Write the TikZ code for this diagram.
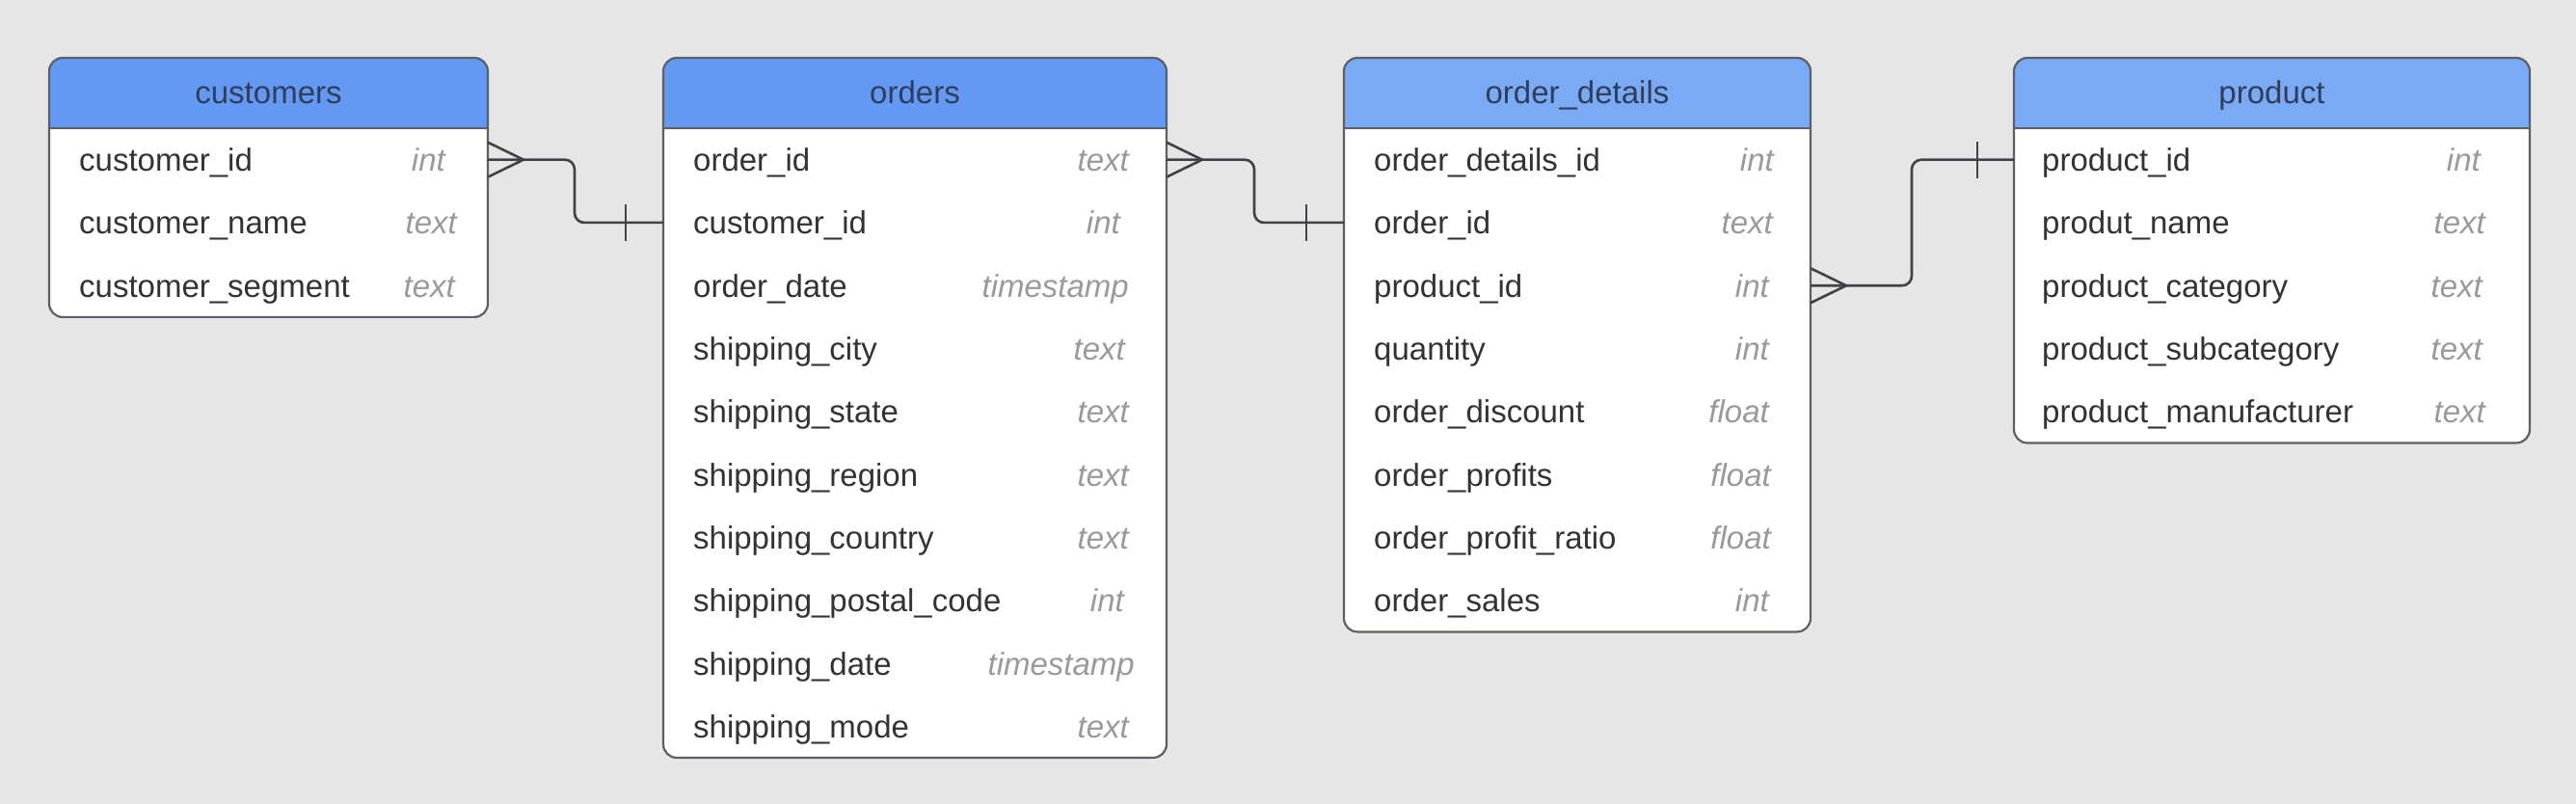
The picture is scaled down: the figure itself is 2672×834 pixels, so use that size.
\documentclass[tikz,border=0pt]{standalone}
\usepackage{fontspec}
\setmainfont{Liberation Sans}
\usetikzlibrary{calc}
\definecolor{bg}{HTML}{E6E6E6}
\definecolor{hdrA}{HTML}{6399F3}
\definecolor{hdrB}{HTML}{7BAAF5}
\definecolor{hdrtext}{HTML}{2F3E5C}
\definecolor{boxline}{HTML}{5C5F66}
\definecolor{fieldtext}{HTML}{333333}
\definecolor{typetext}{HTML}{9A9A9A}
\definecolor{connline}{HTML}{3F4247}
\tikzset{
  tbl/.style={fill=white, draw=none, rounded corners=14pt, inner sep=0pt, outer sep=0pt},
  tblline/.style={draw=boxline, line width=2.2pt, rounded corners=14pt},
  hline/.style={draw=boxline, line width=1.6pt},
  hdr/.style={font=\fontsize{33}{40}\selectfont, text=hdrtext, inner sep=0pt, text height=24pt, text depth=0pt},
  fld/.style={font=\fontsize{33}{40}\selectfont, text=fieldtext, inner sep=0pt, anchor=west, text height=24pt, text depth=0pt},
  typ/.style={font=\fontsize{33}{40}\selectfont\itshape, text=typetext, inner sep=0pt, anchor=east, text height=24pt, text depth=0pt},
  conn/.style={draw=connline, line width=2.6pt},
  route/.style={conn, rounded corners=10pt},
}
\newcommand\ertab[6]{%
  \node[tbl, minimum width={(#3-#2)*1pt}, minimum height={65.3pt*#4+73pt}, anchor=north west] (#1) at (#2,60) {};
  \begin{scope}
    \clip[rounded corners=14pt] (#1.north west) rectangle (#1.south east);
    \fill[#6] (#1.north west) rectangle (#1.east |- hb);
  \end{scope}
  \draw[hline] (#1.west |- hb) -- (#1.east |- hb);
  \draw[tblline] (#1.north west) rectangle (#1.south east);
  \node[hdr] (#1-title) at ({(#2+#3)/2},96) {#5};
}
\newcommand\fld[7]{%
  \node[fld] (#1) at ({#3+31},{133+65.3*(#2+0.5)}) {#4};
  \node[typ] (#1t) at (#6,{133+65.3*(#2+0.5)}) {#5};
}
\begin{document}
\begin{tikzpicture}[x=1pt,y=-1pt]
\fill[bg] (0,0) rectangle (2672,834);
\useasboundingbox (0,0) rectangle (2672,834);
\coordinate (hb) at (0,133);

% customers
\ertab{cust}{51}{506}{3}{customers}{hdrA}
\fld{c1}{0}{51}{customer\_id}{int}{462}{}
\fld{c2}{1}{51}{customer\_name}{text}{474}{}
\fld{c3}{2}{51}{customer\_segment}{text}{472}{}

% orders
\ertab{ord}{688}{1210}{10}{orders}{hdrA}
\fld{o1}{0}{688}{order\_id}{text}{1171}{}
\fld{o2}{1}{688}{customer\_id}{int}{1162}{}
\fld{o3}{2}{688}{order\_date}{timestamp}{1171}{}
\fld{o4}{3}{688}{shipping\_city}{text}{1167}{}
\fld{o5}{4}{688}{shipping\_state}{text}{1171}{}
\fld{o6}{5}{688}{shipping\_region}{text}{1171}{}
\fld{o7}{6}{688}{shipping\_country}{text}{1171}{}
\fld{o8}{7}{688}{shipping\_postal\_code}{int}{1166}{}
\fld{o9}{8}{688}{shipping\_date}{timestamp}{1177}{}
\fld{o10}{9}{688}{shipping\_mode}{text}{1171}{}

% order_details
\ertab{od}{1394}{1878}{8}{order\_details}{hdrB}
\fld{d1}{0}{1394}{order\_details\_id}{int}{1840}{}
\fld{d2}{1}{1394}{order\_id}{text}{1839}{}
\fld{d3}{2}{1394}{product\_id}{int}{1835}{}
\fld{d4}{3}{1394}{quantity}{int}{1835}{}
\fld{d5}{4}{1394}{order\_discount}{float}{1835}{}
\fld{d6}{5}{1394}{order\_profits}{float}{1837}{}
\fld{d7}{6}{1394}{order\_profit\_ratio}{float}{1837}{}
\fld{d8}{7}{1394}{order\_sales}{int}{1835}{}

% product
\ertab{prod}{2089}{2624}{5}{product}{hdrB}
\fld{p1}{0}{2087}{product\_id}{int}{2573}{}
\fld{p2}{1}{2087}{produt\_name}{text}{2578}{}
\fld{p3}{2}{2087}{product\_category}{text}{2575}{}
\fld{p4}{3}{2087}{product\_subcategory}{text}{2575}{}
\fld{p5}{4}{2087}{product\_manufacturer}{text}{2578}{}

% connectors
\coordinate (j1) at (596,0);
\coordinate (j2) at (1301,0);
\coordinate (j3) at (1983,0);

\draw[route] (cust.east |- c1) -| (j1 |- o2) -- (ord.west |- o2);
\draw[conn] ($(cust.east |- c1)+(0,-18)$) -- ++(37,18) -- ++(-37,18);
\draw[conn] ($(ord.west |- o2)+(-39,-19)$) -- ++(0,38);

\draw[route] (ord.east |- o1) -| (j2 |- d2) -- (od.west |- d2);
\draw[conn] ($(ord.east |- o1)+(0,-18)$) -- ++(37,18) -- ++(-37,18);
\draw[conn] ($(od.west |- d2)+(-39,-19)$) -- ++(0,38);

\draw[route] (od.east |- d3) -| (j3 |- p1) -- (prod.west |- p1);
\draw[conn] ($(od.east |- d3)+(0,-18)$) -- ++(37,18) -- ++(-37,18);
\draw[conn] ($(prod.west |- p1)+(-38,-19)$) -- ++(0,38);
\end{tikzpicture}
\end{document}
